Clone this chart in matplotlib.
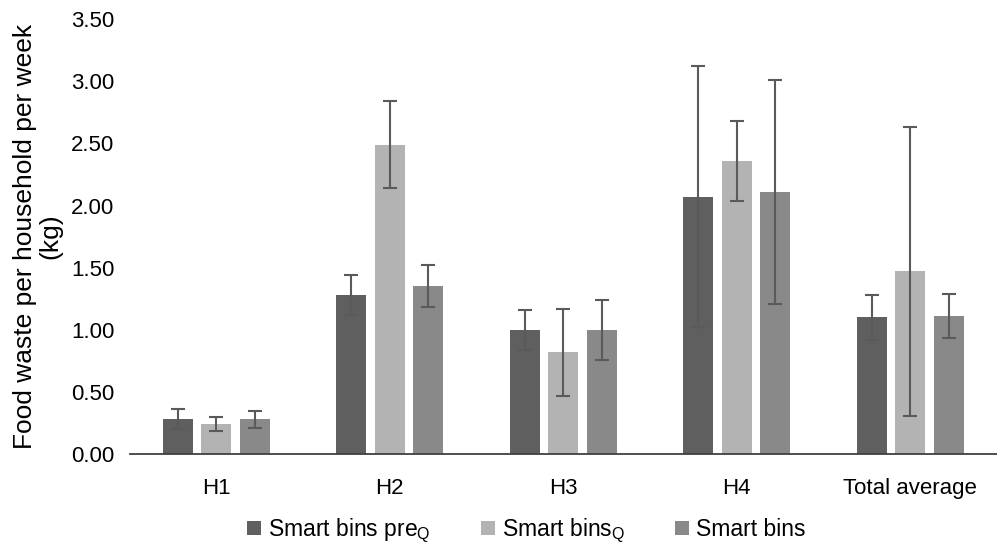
import matplotlib
matplotlib.use("Agg")
import matplotlib.pyplot as plt
import numpy as np

categories = ["H1", "H2", "H3", "H4", "Total average"]
series_names = ["Smart bins pre$_{\\mathregular{Q}}$", "Smart bins$_{\\mathregular{Q}}$", "Smart bins"]
pre_q = [0.28, 1.28, 1.00, 2.07, 1.10]
pre_q_err = [0.08, 0.16, 0.16, 1.05, 0.18]
bins_q = [0.24, 2.49, 0.82, 2.36, 1.47]
bins_q_err = [0.055, 0.35, 0.35, 0.32, 1.165]
bins = [0.28, 1.35, 1.00, 2.11, 1.11]
bins_err = [0.07, 0.17, 0.24, 0.90, 0.18]
yticks = [0.0, 0.5, 1.0, 1.5, 2.0, 2.5, 3.0, 3.5]

colors = ["#5f5f5f", "#b3b3b3", "#898989"]

plt.rcParams["font.family"] = ["Liberation Sans", "DejaVu Sans"]
plt.rcParams["mathtext.fontset"] = "custom"
plt.rcParams["mathtext.rm"] = "Liberation Sans"

fig = plt.figure(figsize=(9.97, 5.49), dpi=100)
ax = fig.add_axes([0.130, 0.173, 0.870, 0.792])

x = np.arange(len(categories))
width = 0.173
pitch = 0.222
for i, (vals, errs) in enumerate([(pre_q, pre_q_err), (bins_q, bins_q_err), (bins, bins_err)]):
    ax.bar(x + (i - 1) * pitch, vals, width, color=colors[i], label=series_names[i],
           yerr=errs, error_kw=dict(ecolor="#5a5a5a", elinewidth=1.5, capsize=5, capthick=1.5))

ax.set_xlim(-0.5, len(categories) - 0.5)
ax.set_ylim(0, 3.5)
ax.set_yticks(yticks)
ax.set_yticklabels([f"{v:.2f}" for v in yticks], fontsize=16)
ax.set_xticks(x)
ax.set_xticklabels(categories, fontsize=16)
ax.tick_params(axis="both", length=0)
ax.tick_params(axis="y", pad=11)
ax.tick_params(axis="x", pad=17)
for s in ["top", "right", "left"]:
    ax.spines[s].set_visible(False)
ax.spines["bottom"].set_color("#404040")
ax.spines["bottom"].set_linewidth(1.3)

ax.set_ylabel("Food waste per household per week\n(kg)", fontsize=19, linespacing=1.05)
ax.yaxis.set_label_coords(-0.078, 0.5)

leg = fig.legend(loc="lower center", bbox_to_anchor=(0.528, -0.03), ncol=3, frameon=False,
                 fontsize=16.5, handlelength=0.6, handleheight=0.6, handletextpad=0.3,
                 columnspacing=2.2)

fig.savefig("out.png", dpi=100)
